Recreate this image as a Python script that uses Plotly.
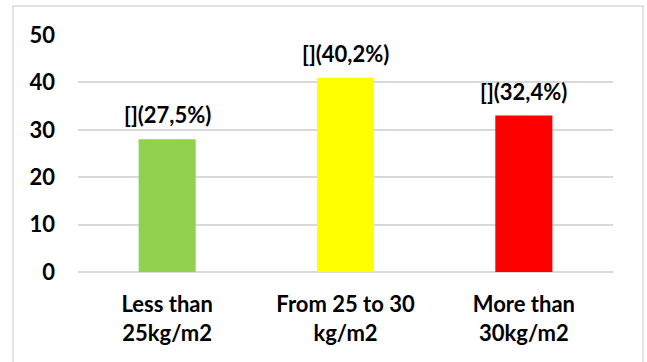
import plotly.graph_objects as go

# BMI groups and number of people in each
categories = ["Less than<br>25kg/m2", "From 25 to 30<br>kg/m2", "More than<br>30kg/m2"]
counts = [28, 41, 33]
bar_colors = ["#92d050", "#ffff00", "#ff0000"]
y_ticks = [0, 10, 20, 30, 40, 50]

total = sum(counts)
labels = ["[](" + f"{round(c / total * 100, 1):.1f}".replace(".", ",") + "%)" for c in counts]

font_family = "Lato"
font_size = 22

fig = go.Figure()
fig.add_trace(go.Bar(
    x=categories,
    y=counts,
    marker=dict(color=bar_colors, line=dict(width=0)),
    width=0.32,
    hoverinfo="skip",
))

for cat, val, lab in zip(categories, counts, labels):
    fig.add_annotation(
        x=cat, y=val, text=lab, showarrow=False,
        yanchor="bottom", yshift=9,
        font=dict(family=font_family, size=font_size, color="#000000", weight="bold"),
    )

# light grey frame around the whole chart
fig.add_shape(
    type="rect", xref="paper", yref="paper",
    x0=-0.1215, x1=1.056, y0=-0.5, y1=1.122,
    line=dict(color="#d9d9d9", width=1.5), fillcolor="rgba(0,0,0,0)",
    layer="below",
)

fig.update_layout(
    width=647, height=362,
    margin=dict(l=78, r=34, t=35, b=90),
    paper_bgcolor="white", plot_bgcolor="white",
    showlegend=False,
    font=dict(family=font_family, size=font_size, color="#000000", weight="bold"),
    xaxis=dict(
        showgrid=False, showline=False, ticks="", ticklabelstandoff=17,
        tickfont=dict(family=font_family, size=font_size, color="#000000", weight="bold"),
    ),
    yaxis=dict(
        range=[0, 50], tickvals=y_ticks,
        showgrid=True, gridcolor="#d9d9d9", gridwidth=1.5,
        zeroline=True, zerolinecolor="#d9d9d9", zerolinewidth=1.5,
        showline=False, ticks="", ticklabelstandoff=22,
        tickfont=dict(family=font_family, size=font_size, color="#000000", weight="bold"),
    ),
)

fig.write_html("out.html")
